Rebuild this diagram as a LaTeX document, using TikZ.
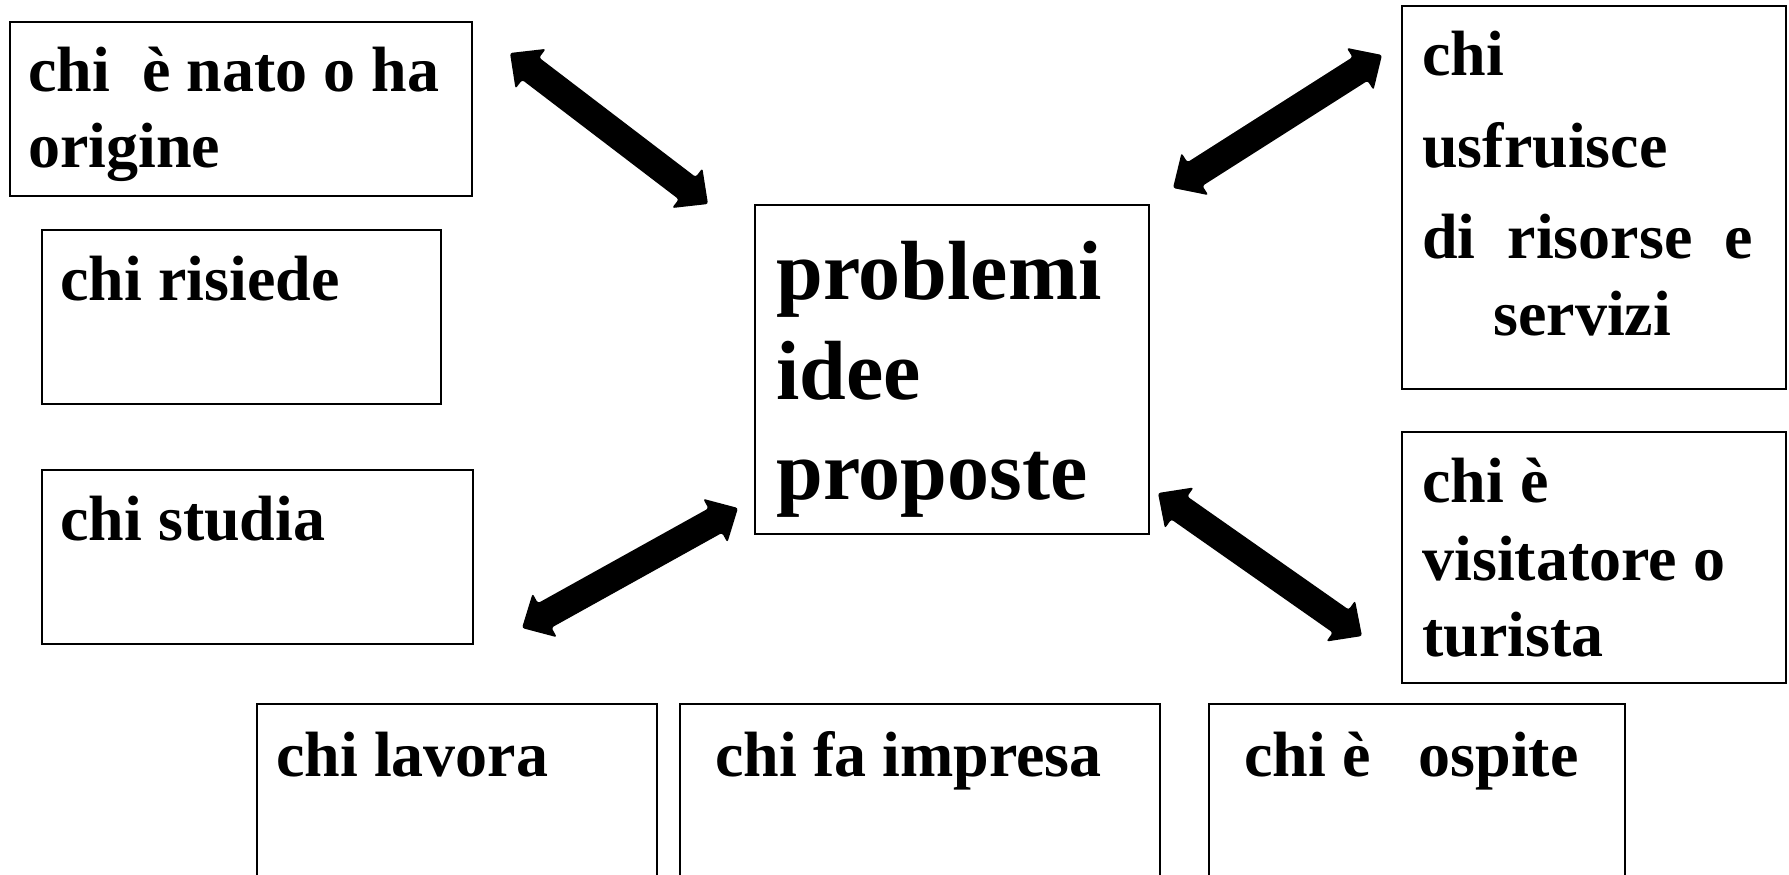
\documentclass[tikz,border=0pt]{standalone}
\usepackage{fontspec}
\setmainfont{Liberation Serif}
\usetikzlibrary{calc}
\tikzset{
  box/.style={draw=black, line width=1pt, fill=none, inner sep=0pt, anchor=north west},
  txt/.style={font=\fontsize{32}{37}\selectfont\bfseries, inner sep=0pt, anchor=base west},
  bigtxt/.style={font=\fontsize{42}{50}\selectfont\bfseries, inner sep=0pt, anchor=base west},
  arrowfill/.style={fill=black, rounded corners=1.2pt}
}
\newcommand\dblarrow[2]{%
\fill[arrowfill] let \p1=($(#2)-(#1)$), \n1={atan2(\y1,\x1)}, \n2={veclen(\x1,\y1)}, \n3={\n2-13pt} in
 (#1) -- ($(#1)+(\n1:13pt)+({\n1+90}:12.5pt)$) -- ($(#1)+(\n1:13pt)+({\n1+90}:7pt)$)
 -- ($(#1)+(\n1:\n3)+({\n1+90}:7pt)$) -- ($(#1)+(\n1:\n3)+({\n1+90}:12.5pt)$)
 -- (#2)
 -- ($(#1)+(\n1:\n3)+({\n1-90}:12.5pt)$) -- ($(#1)+(\n1:\n3)+({\n1-90}:7pt)$)
 -- ($(#1)+(\n1:13pt)+({\n1-90}:7pt)$) -- ($(#1)+(\n1:13pt)+({\n1-90}:12.5pt)$) -- cycle;}
\begin{document}
\begin{tikzpicture}[x=0.5pt,y=-0.5pt]
\clip (0,0) rectangle (1789,874);
\fill[white] (0,0) rectangle (1789,874);
% boxes
\node[box, minimum width=231pt, minimum height=87pt] (nato) at (9,21) {};
\node[box, minimum width=199.5pt, minimum height=87pt] (risiede) at (41,229) {};
\node[box, minimum width=215.5pt, minimum height=87pt] (studia) at (41,469) {};
\node[box, minimum width=197pt, minimum height=164.5pt] (centro) at (754,204) {};
\node[box, minimum width=192pt, minimum height=191.5pt] (fruisce) at (1401,5) {};
\node[box, minimum width=192pt, minimum height=125.5pt] (visit) at (1401,431) {};
\node[box, minimum width=200pt, minimum height=100pt] (lavora) at (256,703) {};
\node[box, minimum width=240pt, minimum height=100pt] (impresa) at (679,703) {};
\node[box, minimum width=208pt, minimum height=100pt] (ospite) at (1208,703) {};
% texts
\node[txt] (t1a) at (28,91) {chi\ \ è nato o ha};
\node[txt] (t1b) at (28,167) {origine};
\node[txt] (t2) at (60,300) {chi risiede};
\node[txt] (t3) at (60,540) {chi studia};
\node[bigtxt] (c1) at (776,299) {problemi};
\node[bigtxt] (c2) at (776,399) {idee};
\node[bigtxt] (c3) at (776,499) {proposte};
\node[txt] (f1) at (1422,75) {chi};
\node[txt] (f2) at (1422,167) {usfruisce};
\node[txt] (f3) at (1422,258) {di\ \ risorse\ \ e};
\node[txt] (f4) at (1493,335) {servizi};
\node[txt] (v1) at (1422,502) {chi è};
\node[txt] (v2) at (1422,580) {visitatore o};
\node[txt] (v3) at (1422,656) {turista};
\node[txt] (l1) at (276,776) {chi lavora};
\node[txt] (i1) at (715,776) {chi fa impresa};
\node[txt] (o1) at (1244,776) {chi è\ \ \ ospite};
% arrow ends
\coordinate (a1s) at (510,53);
\coordinate (a1e) at (708,204);
\coordinate (a2s) at (1382,55);
\coordinate (a2e) at (1173,188);
\coordinate (a3s) at (738,508);
\coordinate (a3e) at (522,628);
\coordinate (a4s) at (1158,493);
\coordinate (a4e) at (1362,636);
\dblarrow{a1s}{a1e}
\dblarrow{a2s}{a2e}
\dblarrow{a3s}{a3e}
\dblarrow{a4s}{a4e}
\end{tikzpicture}
\end{document}
